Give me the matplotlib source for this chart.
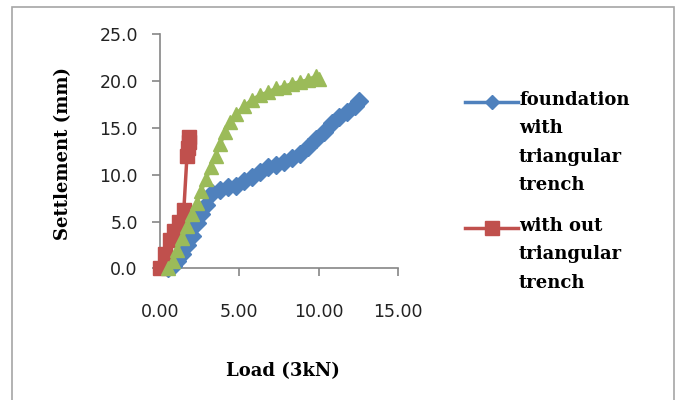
import matplotlib.pyplot as plt
from matplotlib.lines import Line2D
from matplotlib.patches import Rectangle

# load (3kN) vs settlement (mm)
blue_x = [0.5, 0.8, 1.1, 1.4, 1.7, 2.0, 2.3, 2.6, 2.9, 3.3, 3.8, 4.3, 4.8, 5.3, 5.8,
          6.3, 6.8, 7.3, 7.8, 8.3, 8.8, 9.3, 9.8, 10.3, 10.8, 11.3, 11.8, 12.3, 12.5]
blue_y = [0.0, 0.3, 0.8, 1.5, 2.5, 3.5, 4.8, 5.8, 6.8, 8.0, 8.4, 8.7, 8.8, 9.3, 9.8,
          10.3, 10.8, 11.0, 11.4, 11.8, 12.2, 13.0, 13.8, 14.5, 15.5, 16.2, 16.7, 17.3, 17.9]

red_x = [0.0, 0.3, 0.6, 0.9, 1.2, 1.5, 1.7, 1.75, 1.8, 1.85]
red_y = [0.0, 1.5, 3.0, 4.0, 5.0, 6.2, 12.0, 12.8, 13.5, 14.0]

green_x = [0.5, 0.8, 1.1, 1.4, 1.7, 2.0, 2.3, 2.6, 2.9, 3.2, 3.5, 3.8, 4.1, 4.4,
           4.8, 5.3, 5.8, 6.3, 6.8, 7.3, 7.8, 8.3, 8.8, 9.3, 9.8, 10.0]
green_y = [0.0, 0.8, 2.0, 3.2, 4.5, 5.8, 7.0, 8.3, 9.5, 10.8, 12.0, 13.3, 14.5, 15.6,
           16.5, 17.3, 18.0, 18.5, 18.8, 19.2, 19.4, 19.7, 19.9, 20.1, 20.5, 20.2]

blue_label = "foundation\nwith\ntriangular\ntrench"
red_label = "with out\ntriangular\ntrench"

x_ticks = [0, 5, 10, 15]
y_ticks = [0, 5, 10, 15, 20, 25]

BLUE = "#4f81bd"
RED = "#c0504d"
GREEN = "#9bbb59"
GREY = "#868686"
label_font = dict(family="DejaVu Serif", weight="bold", size=13)

fig = plt.figure(figsize=(6.75, 4), dpi=100)
ax = fig.add_axes([0.237, 0.329, 0.353, 0.586])

ax.plot(blue_x, blue_y, color=BLUE, lw=2.5, marker="D", ms=9, clip_on=False, zorder=3)
ax.plot(red_x, red_y, color=RED, lw=2.5, marker="s", ms=10, clip_on=False, zorder=4)
ax.plot(green_x, green_y, color=GREEN, lw=2.5, marker="^", ms=10, clip_on=False, zorder=5)

ax.set_xlim(0, 15)
ax.set_ylim(0, 25)
ax.set_xticks(x_ticks)
ax.set_yticks(y_ticks)
ax.set_xticklabels([f"{v:.2f}" for v in x_ticks])
ax.set_yticklabels([f"{v:.1f}" for v in y_ticks])

for s in ["top", "right"]:
    ax.spines[s].set_visible(False)
for s in ["left", "bottom"]:
    ax.spines[s].set_color(GREY)
    ax.spines[s].set_linewidth(1.2)

ax.tick_params(axis="both", direction="out", length=6, width=1.2, color=GREY,
               labelsize=12.5, labelcolor="#222222")
ax.tick_params(axis="x", pad=19)
ax.tick_params(axis="y", pad=10)

ax.set_xlabel("Load (3kN)", fontdict=label_font)
ax.set_ylabel("Settlement (mm)", fontdict=label_font)
ax.xaxis.set_label_coords(0.517, -0.40)
ax.yaxis.set_label_coords(-0.37, 0.49)

# hand-made legend, handle sits on the first line of each label
for y, col, mk, ms, txt in [(0.745, BLUE, "D", 7, blue_label),
                            (0.43, RED, "s", 10, red_label)]:
    fig.add_artist(Line2D([0.689, 0.768], [y, y], color=col, lw=2.5))
    fig.add_artist(Line2D([0.7285], [y], color=col, marker=mk, ms=ms))
    fig.text(0.769, y + 0.028, txt, ha="left", va="top", linespacing=1.75, **label_font)

fig.add_artist(Rectangle((0.018, -0.01), 0.98, 0.9925, transform=fig.transFigure,
                         fill=False, edgecolor="#a6a6a6", lw=1.2))

fig.savefig("out.png", dpi=100)
